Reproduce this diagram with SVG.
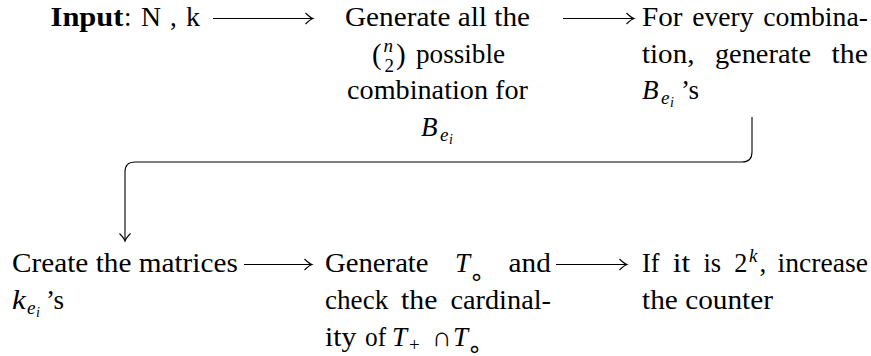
<svg xmlns="http://www.w3.org/2000/svg" width="871" height="356" viewBox="0 0 871 356">
<style>
.t{font-family:"Liberation Serif","Times New Roman",serif;font-size:27px;fill:#000}
.i{font-style:italic}
.b{font-weight:bold}
.s{font-size:19px}
.ss{font-size:14px}
.o{font-family:"DejaVu Sans",sans-serif;font-size:24px;fill:#000}
.ln{fill:none;stroke:#000;stroke-width:1.1}
</style>
<defs>
<marker id="ah" markerUnits="userSpaceOnUse" viewBox="-10 -8 12 16" refX="0" refY="0" markerWidth="12" markerHeight="16" orient="auto">
<path d="M-7.5,-5.5 Q-3,-1 0,0 Q-3,1 -7.5,5.5" fill="none" stroke="#000" stroke-width="1.1"/>
</marker>
</defs>
<rect width="871" height="356" fill="#fff"/>
<g id="connectors">
<path class="ln" d="M213,18.5 H313" marker-end="url(#ah)"/>
<path class="ln" d="M563,18.5 H634" marker-end="url(#ah)"/>
<path class="ln" d="M752,117 V152 Q752,162 742,162 H135 Q125,162 125,172 V241" marker-end="url(#ah)"/>
<path class="ln" d="M244,264.5 H312" marker-end="url(#ah)"/>
<path class="ln" d="M556,264.5 H627" marker-end="url(#ah)"/>
</g>
<g id="n-input">
<text class="t b" x="50.5" y="26" textLength="73" lengthAdjust="spacingAndGlyphs">Input</text>
<text class="t" x="124" y="26">:</text>
<text class="t" x="141" y="26" textLength="20" lengthAdjust="spacingAndGlyphs">N</text>
<text class="t" x="170" y="26">,</text>
<text class="t" x="186" y="26" textLength="14" lengthAdjust="spacingAndGlyphs">k</text>
</g>
<g id="n-generate">
<text class="t" x="345" y="26" textLength="185" lengthAdjust="spacingAndGlyphs">Generate all the</text>
<text class="t" x="372" y="64" style="font-size:29px">(</text>
<text class="t i s" x="383.5" y="52">n</text>
<text class="t s" x="384.5" y="71.5">2</text>
<text class="t" x="396" y="64" style="font-size:29px">)</text>
<text class="t" x="416" y="62.7" textLength="89" lengthAdjust="spacingAndGlyphs">possible</text>
<text class="t" x="347" y="99.4" textLength="181" lengthAdjust="spacingAndGlyphs">combination for</text>
<text class="t i" x="421" y="136.1">B</text>
<text class="t i s" x="440" y="141.1">e</text>
<text class="t i ss" x="449" y="144.1">i</text>
</g>
<g id="n-combination">
<text class="t" x="642" y="26" textLength="40.5" lengthAdjust="spacingAndGlyphs">For</text>
<text class="t" x="692.3" y="26" textLength="61.2" lengthAdjust="spacingAndGlyphs">every</text>
<text class="t" x="763.2" y="26" textLength="104.8" lengthAdjust="spacingAndGlyphs">combina-</text>
<text class="t" x="642" y="62.7" textLength="52.4" lengthAdjust="spacingAndGlyphs">tion,</text>
<text class="t" x="714.9" y="62.7" textLength="96.1" lengthAdjust="spacingAndGlyphs">generate</text>
<text class="t" x="831.5" y="62.7" textLength="36.4" lengthAdjust="spacingAndGlyphs">the</text>
<text class="t i" x="642" y="99.4">B</text>
<text class="t i s" x="661" y="104.4">e</text>
<text class="t i ss" x="670" y="107.4">i</text>
<text class="t" x="681" y="99.4">’s</text>
</g>
<g id="n-create">
<text class="t" x="12" y="271.5" textLength="225.8" lengthAdjust="spacingAndGlyphs">Create the matrices</text>
<text class="t i" x="12" y="308.5" textLength="13.7" lengthAdjust="spacingAndGlyphs">k</text>
<text class="t i s" x="27" y="313.5">e</text>
<text class="t i ss" x="36" y="316.5">i</text>
<text class="t" x="46" y="308.5">’s</text>
</g>
<g id="n-cardinality">
<text class="t" x="325" y="271.5" textLength="103.6" lengthAdjust="spacingAndGlyphs">Generate</text>
<text class="t i" x="455" y="271.5">T</text>
<text class="o" x="469" y="285">∘</text>
<text class="t" x="508.6" y="271.5" textLength="42.2" lengthAdjust="spacingAndGlyphs">and</text>
<text class="t" x="325" y="308.5" textLength="63.3" lengthAdjust="spacingAndGlyphs">check</text>
<text class="t" x="401.1" y="308.5" textLength="36.4" lengthAdjust="spacingAndGlyphs">the</text>
<text class="t" x="450.4" y="308.5" textLength="100.6" lengthAdjust="spacingAndGlyphs">cardinal-</text>
<text class="t" x="325" y="345.5" textLength="31.3" lengthAdjust="spacingAndGlyphs">ity</text>
<text class="t" x="365" y="345.5" textLength="21.1" lengthAdjust="spacingAndGlyphs">of</text>
<text class="t i" x="392" y="345.5">T</text>
<text class="t s" x="409" y="350.5">+</text>
<text class="t" x="432" y="345.5">∩</text>
<text class="t i" x="453" y="345.5">T</text>
<text class="o" x="467" y="357">∘</text>
</g>
<g id="n-counter">
<text class="t" x="642" y="271.5" textLength="17.5" lengthAdjust="spacingAndGlyphs">If</text>
<text class="t" x="672.7" y="271.5" textLength="17.5" lengthAdjust="spacingAndGlyphs">it</text>
<text class="t" x="703.5" y="271.5" textLength="17.6" lengthAdjust="spacingAndGlyphs">is</text>
<text class="t" x="734.3" y="271.5" textLength="13.1" lengthAdjust="spacingAndGlyphs">2</text>
<text class="t i s" x="749" y="262">k</text>
<text class="t" x="759.5" y="271.5">,</text>
<text class="t" x="777.6" y="271.5" textLength="90.4" lengthAdjust="spacingAndGlyphs">increase</text>
<text class="t" x="642" y="308.5" textLength="131" lengthAdjust="spacingAndGlyphs">the counter</text>
</g>
</svg>
